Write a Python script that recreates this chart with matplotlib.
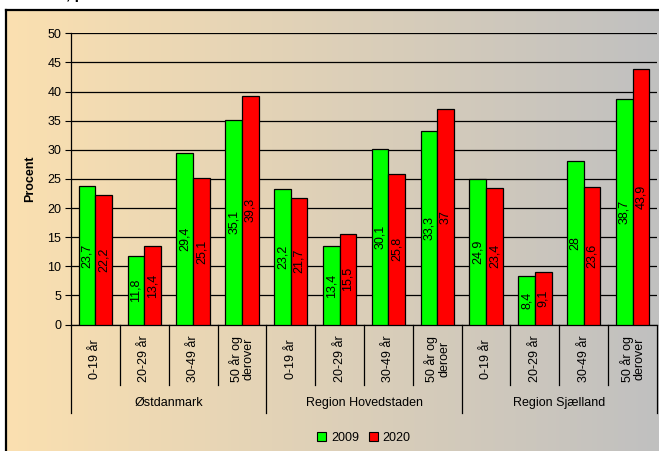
import numpy as np
import matplotlib
matplotlib.use("Agg")
import matplotlib.pyplot as plt
from matplotlib.patches import Patch
from matplotlib.lines import Line2D
import matplotlib.transforms as mtransforms

plt.rcParams['font.family'] = ['Liberation Sans', 'DejaVu Sans']

groups = ["Østdanmark", "Region Hovedstaden", "Region Sjælland"]
age_labels = [
    ["0-19 år", "20-29 år", "30-49 år", "50 år og\nderover"],
    ["0-19 år", "20-29 år", "30-49 år", "50 år og\nderoer"],
    ["0-19 år", "20-29 år", "30-49 år", "50 år og\nderover"],
]
series_names = ["2009", "2020"]
values_2009 = [23.7, 11.8, 29.4, 35.1, 23.2, 13.4, 30.1, 33.3, 24.9, 8.4, 28, 38.7]
values_2020 = [22.2, 13.4, 25.1, 39.3, 21.7, 15.5, 25.8, 37, 23.4, 9.1, 23.6, 43.9]
colors = ["#00FF00", "#FF0000"]
yticks = [0, 5, 10, 15, 20, 25, 30, 35, 40, 45, 50]

W, H = 659, 451
fig = plt.figure(figsize=(W / 100, H / 100), dpi=100)
fig.patch.set_facecolor("white")

def fx(px):
    return px / W

def fy(py):
    return 1 - py / H

# gradient background
bg = fig.add_axes([fx(6), 0, 1 - fx(6), fy(10)])
bg.set_axis_off()
left_c = np.array([251, 224, 176]) / 255
right_c = np.array([192, 192, 192]) / 255
t = np.linspace(0, 1, 400)
grad = left_c[None, :] * (1 - t[:, None]) + right_c[None, :] * t[:, None]
bg.imshow(grad[None, :, :], aspect="auto", extent=[0, 1, 0, 1])
bg.set_xlim(0, 1)
bg.set_ylim(0, 1)

# border
fig.add_artist(Line2D([fx(6), fx(6)], [0, fy(10)], color="black", lw=1.6, transform=fig.transFigure))
fig.add_artist(Line2D([fx(6), 1], [fy(10), fy(10)], color="black", lw=1.6, transform=fig.transFigure))

# clipped title fragment
fig.text(fx(66), 1 + 0.5 / H, ", p", fontsize=11, fontweight="bold", va="baseline", ha="left")

ax = fig.add_axes([fx(71), fy(324.5), fx(657) - fx(71), fy(33.3) - fy(324.5)])
ax.set_facecolor("none")
n = len(values_2009)
x = np.arange(n) + 0.5
bw = 0.34
ax.bar(x - bw / 2, values_2009, width=bw, color=colors[0], edgecolor="black", linewidth=0.9, zorder=3, label=series_names[0])
ax.bar(x + bw / 2, values_2020, width=bw, color=colors[1], edgecolor="black", linewidth=0.9, zorder=3, label=series_names[1])

def fmt(v):
    if float(v).is_integer():
        return str(int(v))
    return f"{v:.1f}".replace(".", ",")

for xi, v in zip(x - bw / 2, values_2009):
    ax.text(xi, v / 2, fmt(v), rotation=90, ha="center", va="center", fontsize=9, zorder=4)
for xi, v in zip(x + bw / 2, values_2020):
    ax.text(xi, v / 2, fmt(v), rotation=90, ha="center", va="center", fontsize=9, zorder=4)

ax.set_xlim(0, n)
ax.set_ylim(0, 50)
ax.set_yticks(yticks)
ax.set_yticklabels([str(v) for v in yticks], fontsize=9)
ax.tick_params(axis="y", direction="out", length=4, width=0.8, pad=3)
ax.set_xticks([])
ax.grid(axis="y", color="black", linewidth=0.9, zorder=1)
for s in ["top", "right"]:
    ax.spines[s].set_visible(False)
ax.spines["left"].set_linewidth(0.9)
ax.spines["bottom"].set_linewidth(0.9)
ax.set_ylabel("Procent", fontsize=9, fontweight="bold", labelpad=8)

# category axis separators and labels
trans = mtransforms.blended_transform_factory(ax.transData, fig.transFigure)
for i in range(n + 1):
    bottom = 413 if i % 4 == 0 else 385
    ax.add_artist(Line2D([i, i], [fy(325), fy(bottom)], color="black", lw=0.9, transform=trans, clip_on=False))
flat_labels = [lab for g in age_labels for lab in g]
for xi, lab in zip(x, flat_labels):
    ax.text(xi, fy(359), lab, rotation=90, ha="center", va="center", multialignment="center",
            fontsize=9, transform=trans, clip_on=False, linespacing=1.0)
for gi, g in enumerate(groups):
    ax.text(gi * 4 + 2, fy(403), g, ha="center", va="center", fontsize=9, transform=trans, clip_on=False)

handles = [Patch(facecolor=c, edgecolor="black", linewidth=0.8) for c in colors]
fig.legend(handles, series_names, loc="center", bbox_to_anchor=(fx(364), fy(438)), ncol=2,
           frameon=False, fontsize=9, handlelength=0.7, handleheight=0.7, handletextpad=0.4,
           columnspacing=0.8, borderpad=0)

fig.savefig("out.png", dpi=100)
